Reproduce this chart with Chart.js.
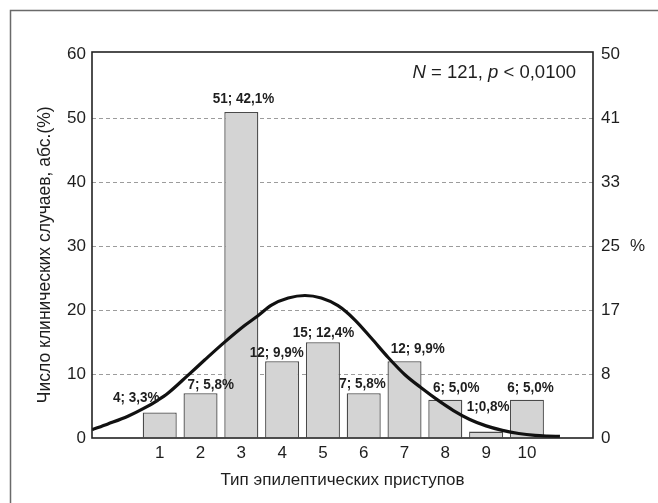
<!DOCTYPE html>
<html>
<head>
<meta charset="utf-8">
<script src="https://cdn.jsdelivr.net/npm/chart.js@4.4.1/dist/chart.umd.min.js"></script>
<style>
  html, body { margin: 0; padding: 0; background: #fff; }
  canvas { display: block; }
</style>
</head>
<body>
<canvas id="chart" width="658" height="503"></canvas>
<script>
// Seizure types and number of clinical cases per type
const seizureTypes = [1, 2, 3, 4, 5, 6, 7, 8, 9, 10];
const caseCounts = [4, 7, 51, 12, 15, 7, 12, 6, 1, 6];
const barLabels = ['4; 3,3%', '7; 5,8%', '51; 42,1%', '12; 9,9%', '15; 12,4%',
                   '7; 5,8%', '12; 9,9%', '6; 5,0%', '1;0,8%', '6; 5,0%'];

// Fitted distribution curve (x position, number of cases)
const curveX = [-0.66, -0.27, 0.22, 0.63, 0.95, 1.2, 1.69, 2.1, 2.59, 3.08, 3.4, 3.74, 4.15, 4.56,
                4.96, 5.37, 5.78, 6.19, 6.6, 7.01, 7.4, 7.8, 8.2, 8.6, 9.0, 9.4, 9.8, 10.2, 10.5, 10.81];
const curveY = [1.3, 2.2, 3.4, 4.7, 5.9, 7.0, 9.8, 12.2, 15.0, 17.6, 19.1, 20.8, 21.9, 22.3,
                21.9, 20.7, 18.5, 15.6, 12.6, 9.9, 7.9, 6.0, 4.3, 2.9, 1.9, 1.2, 0.7, 0.4, 0.3, 0.25];

// Axis ticks: absolute counts on the left, percent of N on the right
const leftTicks = [0, 10, 20, 30, 40, 50, 60];
const rightTickLabels = ['0', '8', '17', '25', '33', '41', '50'];
const totalCases = 121;
const pValue = '0,0100';

const FONT = "'Liberation Sans', Arial, Helvetica, sans-serif";
const INK = '#1e1e1e';

// Label placement relative to each bar: [dx from bar centre, gap above bar top]
const labelPlacement = [[-23.5, 14.5], [10.3, 8.6], [2.2, 13.4], [-5.3, 8.9], [0.6, 9.7],
                        [-1.2, 9.6], [13.3, 12.3], [11, 11.7], [2, 24.7], [3.7, 12]];

// Draws text narrowed horizontally, giving a condensed face
function condensedText(ctx, text, x, y, squeeze) {
  ctx.save();
  ctx.translate(x, y);
  ctx.scale(squeeze, 1);
  ctx.fillText(text, 0, 0);
  ctx.restore();
}

const decor = {
  id: 'decor',
  beforeDraw(chart) {
    const ctx = chart.ctx;
    ctx.save();
    ctx.fillStyle = '#fff';
    ctx.fillRect(0, 0, chart.width, chart.height);
    // outer frame (top and left edges)
    ctx.strokeStyle = '#6a6a6a';
    ctx.lineWidth = 1.5;
    ctx.beginPath();
    ctx.moveTo(10.5, chart.height);
    ctx.lineTo(10.5, 10.5);
    ctx.lineTo(chart.width, 10.5);
    ctx.stroke();
    ctx.restore();
  },
  afterDatasetsDraw(chart) {
    const ctx = chart.ctx;
    const a = chart.chartArea;
    ctx.save();
    // plot frame
    ctx.strokeStyle = '#222';
    ctx.lineWidth = 1.6;
    ctx.strokeRect(a.left, a.top, a.right - a.left, a.bottom - a.top);

    // value labels above the bars
    const meta = chart.getDatasetMeta(0);
    ctx.fillStyle = INK;
    ctx.font = "bold 15px " + FONT;
    ctx.textAlign = 'center';
    ctx.textBaseline = 'middle';
    meta.data.forEach((bar, i) => {
      const [dx, gap] = labelPlacement[i];
      condensedText(ctx, barLabels[i], bar.x + dx, bar.y - gap, 0.9);
    });

    // sample size and significance
    const parts = [['N', 'italic '], [' = ' + totalCases + ', ', ''], ['p', 'italic '], [' < ' + pValue, '']];
    ctx.textAlign = 'left';
    let w = 0;
    parts.forEach(([t, s]) => { ctx.font = s + '18.5px ' + FONT; w += ctx.measureText(t).width; });
    let x = a.right - 17 - w;
    parts.forEach(([t, s]) => {
      ctx.font = s + '18.5px ' + FONT;
      ctx.fillText(t, x, a.top + 21);
      x += ctx.measureText(t).width;
    });

    // unit of the right axis
    const y2 = chart.scales.y2;
    ctx.font = '17px ' + FONT;
    ctx.fillText('%', y2.left + 37, y2.getPixelForValue(30));
    ctx.restore();
  }
};

new Chart(document.getElementById('chart'), {
  type: 'bar',
  data: {
    datasets: [{
      type: 'bar',
      data: seizureTypes.map((t, i) => ({ x: t, y: caseCounts[i] })),
      backgroundColor: '#d4d4d4',
      borderColor: '#4a4a4a',
      borderWidth: 1.3,
      barPercentage: 0.834,
      categoryPercentage: 1,
      order: 2
    }, {
      type: 'line',
      data: curveX.map((x, i) => ({ x, y: curveY[i] })),
      borderColor: '#111',
      borderWidth: 3.2,
      pointRadius: 0,
      fill: false,
      cubicInterpolationMode: 'monotone',
      order: 1
    }]
  },
  options: {
    responsive: false,
    animation: false,
    devicePixelRatio: 1,
    layout: { padding: { top: 52, left: 0, right: 0, bottom: 0 } },
    plugins: { legend: { display: false }, tooltip: { enabled: false } },
    scales: {
      x: {
        type: 'linear',
        min: -0.66,
        max: 11.62,
        offset: false,
        afterBuildTicks: s => { s.ticks = seizureTypes.map(v => ({ value: v })); },
        afterFit: s => { s.height = 65; },
        grid: { display: false, drawTicks: false },
        border: { display: false },
        ticks: { padding: 5, autoSkip: false, maxRotation: 0, color: INK,
                 font: { family: FONT, size: 17 }, callback: v => String(v) },
        title: { display: true, text: 'Тип эпилептических приступов', color: INK,
                 font: { family: FONT, size: 17 }, padding: { top: 0, bottom: 12.5 } }
      },
      y: {
        position: 'left',
        min: 0,
        max: 60.4,
        afterBuildTicks: s => { s.ticks = leftTicks.map(v => ({ value: v })); },
        afterFit: s => { s.width = 92; },
        grid: { drawTicks: false, lineWidth: 1,
                color: c => (c.tick && (c.tick.value === 0 || c.tick.value === 60)) ? 'rgba(0,0,0,0)' : '#9c9c9c' },
        border: { display: false, dash: [4, 3] },
        ticks: { padding: 6, color: INK, font: { family: FONT, size: 17 } },
        title: { display: true, text: 'Число клинических случаев, абс.(%)    ', color: INK,
                 font: { family: FONT, size: 17.5 }, padding: { top: 34.5, bottom: 0 } }
      },
      y2: {
        position: 'right',
        min: 0,
        max: 60.4,
        afterBuildTicks: s => { s.ticks = leftTicks.map(v => ({ value: v })); },
        afterFit: s => { s.width = 65; },
        grid: { display: false, drawTicks: false },
        border: { display: false },
        ticks: { padding: 8, color: INK, font: { family: FONT, size: 17 },
                 callback: (v, i) => rightTickLabels[i] }
      }
    }
  },
  plugins: [decor]
});
</script>
</body>
</html>
